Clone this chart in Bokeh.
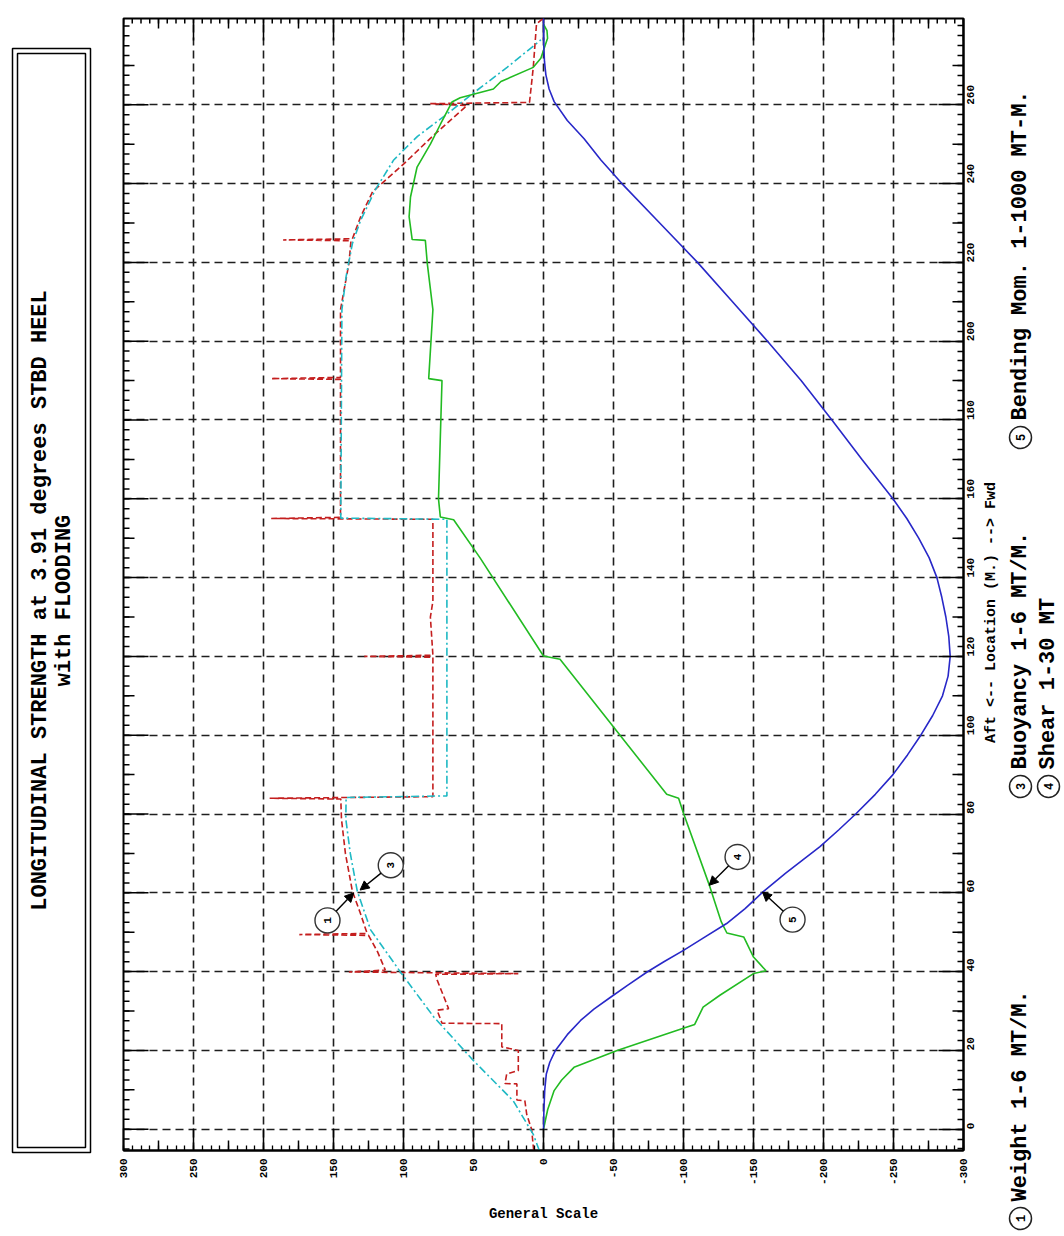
import math
from bokeh.plotting import figure
from bokeh.models import Range1d, FixedTicker, Label, Arrow, NormalHead, ColumnDataSource
from bokeh.layouts import row
from bokeh.core.properties import value
from bokeh.embed import file_html
from bokeh.resources import INLINE

FONT = "Liberation Mono"

# ---------------- data (General Scale value vs Location in metres) ----------------
loc_weight = [-5.4, 0, 3.8, 7.2, 7.4, 11.5, 11.6, 14, 14.9, 20, 20.9, 26.8, 26.9, 30.2, 30.6, 37.9, 39.3,
              39.5, 39.9, 40.4, 45, 49.2, 49.4, 49.7, 55, 60.4, 70, 78.7, 83.8, 84.0, 84.4, 119.8, 120.0,
              120.3, 130, 134, 154.8, 155.0, 155.3, 190.3, 190.5, 190.8, 208, 219.7, 225.5, 225.7, 226.0,
              231.6, 238, 245, 252.3, 259.8, 260.3, 260.6, 269.5, 280.5, 282]
weight = [7, 8.5, 12, 13.3, 19, 19, 27.5, 26.3, 18, 18, 29.8, 29.8, 72.5, 76, 67.8, 76, 77,
          18, 139, 113, 118.5, 125, 174.4, 126, 131, 136.5, 141.5, 144.3, 144.8, 195.6, 79, 79, 128,
          79, 80.8, 79, 79, 194.5, 145, 145, 194.5, 145, 145, 139, 137.5, 186, 136.5,
          130.6, 122, 99.8, 78.4, 54.7, 81, 10, 7.3, 5, 0]

loc_buoy = [-5.4, -1.3, 7.2, 17.4, 28.5, 39.8, 50.6, 60.4, 70, 78.7, 84.2, 84.6, 154.8, 155.1, 208,
            216.4, 224.8, 230.7, 238.5, 246, 252, 257, 263, 269.5, 275.9, 276.5]
buoyancy = [3, 7.3, 21.6, 50, 78.4, 102, 123.5, 133, 138, 141.2, 141, 69, 69, 144.8, 144,
            141, 136.5, 130.6, 120, 107, 90, 71.3, 50, 26, 3.8, 1.9]

loc_shear = [0, 5, 9.8, 12.5, 15.7, 20, 25.9, 26.6, 31, 34, 39.5, 40.2, 43.7, 48.8, 49.8, 52.6, 62.4,
             80.2, 84, 85, 119.3, 120.1, 145, 154.7, 155.4, 160, 190, 190.5, 208, 219.7, 225.6, 225.8,
             231.6, 236.6, 244.2, 250, 255, 260.7, 261.8, 264, 265.9, 269.5, 271.8, 276.9, 278.8, 280.5]
shear = [0, -3, -7.6, -13, -21.8, -52.6, -102, -108, -114, -126, -150, -159, -150, -143, -131, -127, -118,
         -100, -96.5, -88, -11.8, 0, 45.3, 64.2, 73.7, 75, 72.5, 82, 79, 83, 84.4, 93.8,
         96, 95, 90.3, 80.8, 73.7, 65.4, 59.5, 35.8, 30.4, 7.3, 1.9, -2.9, -2.5, 0]

loc_moment = [0, 5, 10, 14, 17, 20, 24, 27.6, 30.5, 33.5, 36.5, 39.9, 42.5, 45.4, 48.5, 52.2, 56, 60.3,
              65, 71.7, 76, 80, 85, 90, 95, 100, 105, 110, 115, 120, 125, 130, 135, 140, 145, 150, 155,
              160, 170, 180, 190, 200, 210, 220, 230, 240, 246, 251.4, 256, 260.8, 264, 267.6, 271, 275, 282]
moment = [0, -0.3, -0.9, -2, -4.5, -8.5, -17, -26.5, -36, -47.9, -60, -74, -86, -100, -114, -130.8, -144,
          -157, -173, -197.5, -211, -223, -237, -249.6, -260, -269.5, -278, -285, -289, -290.5, -289.5,
          -287.4, -284.5, -281, -275.5, -268, -259.5, -249.6, -227.5, -206, -184, -160, -135, -110, -83,
          -56, -41, -29, -17, -7.6, -4, -1.7, -0.7, -0.2, 0]

x_ticks = [300, 250, 200, 150, 100, 50, 0, -50, -100, -150, -200, -250, -300]
x_tick_labels = ["300", "250", "200", "150", "100", "50", "0", "-50", "-100", "-150", "-200", "-250", "-300"]
y_ticks = [0, 20, 40, 60, 80, 100, 120, 140, 160, 180, 200, 220, 240, 260]
y_tick_labels = ["0", "20", "40", "60", "80", "100", "120", "140", "160", "180", "200", "220", "240", "260"]

title_lines = ["LONGITUDINAL STRENGTH at 3.91 degrees STBD HEEL", "with FLOODING"]
x_axis_title = "General Scale"
y_axis_title = "Aft <-- Location (M.) --> Fwd"

legend_nums = ["1", "3", "4", "5"]
legend_texts = ["Weight 1-6 MT/M.", "Buoyancy 1-6 MT/M.", "Shear 1-30 MT", "Bending Mom. 1-1000 MT-M."]

callout_nums = ["1", "3", "4", "5"]
callout_cx = [154.3, 109.1, -138.6, -177.9]
callout_cy = [53.0, 67.0, 69.1, 53.2]
callout_tx = [135.5, 131.0, -118.3, -156.4]
callout_ty = [60.0, 60.7, 61.9, 60.2]

RED, CYAN, GREEN, BLUE = "#c41e1e", "#1fb9c4", "#22bb22", "#2828c8"

# ---------------- layout constants ----------------
H = 1236
X0, X1 = 300, -300
Y0, Y1 = -5.4, 281.9
FW, FH = 840, 1132
PXG = FW / abs(X1 - X0)
PXL = FH / (Y1 - Y0)
MAIN_W = 875
SIDE_X = 108 + MAIN_W


def no_align(fig):
    try:
        fig.frame_align = False
    except Exception:
        pass


# ---------------- main chart ----------------
p = figure(width=MAIN_W, height=H, x_range=Range1d(X0, X1), y_range=Range1d(Y0, Y1),
           output_backend="svg", toolbar_location=None,
           x_axis_location="below", y_axis_location="right",
           min_border_left=15, min_border_right=MAIN_W - 15 - FW, min_border_top=18, min_border_bottom=86)
no_align(p)
p.outline_line_color = "black"
p.outline_line_width = 2
p.background_fill_color = "white"
p.border_fill_color = "white"

x_minor = [X1 + 6.25 * i for i in range(97)]
y_minor = [-5 + 2.5 * i for i in range(115)]
xt = FixedTicker(ticks=x_ticks, minor_ticks=x_minor)
yt = FixedTicker(ticks=y_ticks, minor_ticks=y_minor)


def style_axis(ax, major_len, minor_len):
    ax.axis_line_color = "black"
    ax.axis_line_width = 2
    ax.major_tick_in = major_len
    ax.major_tick_out = 0
    ax.minor_tick_in = minor_len
    ax.minor_tick_out = 0
    ax.major_tick_line_color = "black"
    ax.minor_tick_line_color = "black"
    ax.major_tick_line_width = 1.5
    ax.minor_tick_line_width = 1.3
    ax.major_label_text_font = FONT
    ax.major_label_text_font_style = "bold"
    ax.major_label_text_color = "black"
    ax.major_label_text_font_size = "11px"
    ax.axis_label_text_font = FONT
    ax.axis_label_text_font_style = "bold"
    ax.axis_label_text_color = "black"


bx = p.xaxis[0]
bx.ticker = xt
style_axis(bx, 22, 5)
bx.major_label_overrides = {t: s for t, s in zip(x_ticks, x_tick_labels)}
bx.major_label_orientation = math.pi / 2
bx.major_label_standoff = 8
bx.axis_label = x_axis_title
bx.axis_label_text_font_size = "14px"
bx.axis_label_standoff = 18

ry = p.yaxis[0]
ry.ticker = yt
style_axis(ry, 25, 6)
ry.major_label_overrides = {t: s for t, s in zip(y_ticks, y_tick_labels)}
ry.major_label_orientation = math.pi / 2
ry.major_label_standoff = 7

for g in p.xgrid:
    g.ticker = xt
for g in p.ygrid:
    g.ticker = yt
p.grid.grid_line_color = "#1e1e1e"
p.grid.grid_line_dash = "8 5"
p.grid.grid_line_width = 1.6

# frame ticks on the top and left edges, and medium ticks on all edges
mid_x = [(a + b) / 2 for a, b in zip(x_ticks[:-1], x_ticks[1:])]
mid_y = [v + 10 for v in y_ticks if v + 10 < Y1]


def edge_ticks_h(vals, length_px, at_y, direction):
    d = direction * length_px / PXL
    p.segment(x0=vals, y0=[at_y] * len(vals), x1=vals, y1=[at_y + d] * len(vals),
              line_color="black", line_width=1.5)


def edge_ticks_v(vals, length_px, at_x, direction):
    d = direction * length_px / PXG
    p.segment(x0=[at_x] * len(vals), y0=vals, x1=[at_x + d] * len(vals), y1=vals,
              line_color="black", line_width=1.5)


edge_ticks_h(mid_x, 10, Y0, 1)
edge_ticks_h(mid_x, 10, Y1, -1)
edge_ticks_h(x_ticks, 22, Y1, -1)
edge_ticks_h(x_minor, 5, Y1, -1)
edge_ticks_v(mid_y, 11, X0, -1)
edge_ticks_v(mid_y, 11, X1, 1)
edge_ticks_v(y_ticks, 25, X0, -1)
edge_ticks_v(y_minor, 6, X0, -1)

# curves
p.line(weight, loc_weight, line_color=RED, line_dash="6 3", line_width=1.6)
p.line(buoyancy, loc_buoy, line_color=CYAN, line_dash="8 3 2 3", line_width=1.6)
p.line(shear, loc_shear, line_color=GREEN, line_width=1.6)
p.line(moment, loc_moment, line_color=BLUE, line_width=1.6)

# callouts
R = 12.5
xs, ys = [], []
for cx, cy, txx, tyy in zip(callout_cx, callout_cy, callout_tx, callout_ty):
    dx = (txx - cx) * (-PXG)
    dy = (tyy - cy) * PXL
    d = math.hypot(dx, dy)
    ux, uy = dx / d, dy / d
    xs.append(cx + ux * R / (-PXG))
    ys.append(cy + uy * R / PXL)
asrc = ColumnDataSource(dict(x0=xs, y0=ys, x1=callout_tx, y1=callout_ty))
p.add_layout(Arrow(source=asrc, x_start="x0", y_start="y0", x_end="x1", y_end="y1",
                   line_color="black", line_width=1.4,
                   end=NormalHead(size=9, fill_color="black", line_color="black")))
p.scatter(callout_cx, callout_cy, marker="circle", size=2 * R, fill_color="white",
          line_color="#333333", line_width=1.4)
p.text(callout_cx, callout_cy, text=callout_nums, angle=math.pi / 2, text_align="center",
       text_baseline="middle", text_font=value(FONT), text_font_size="11px",
       text_font_style="bold", text_color="black")

# ---------------- title panel (coordinates = page pixels) ----------------
t = figure(width=108, height=H, x_range=Range1d(0, 108), y_range=Range1d(H, 0),
           output_backend="svg", toolbar_location=None, x_axis_location=None,
           y_axis_location=None, min_border=0)
no_align(t)
t.grid.visible = False
t.outline_line_color = None
t.quad(left=[12, 17], right=[90, 85], top=[48, 53], bottom=[1152, 1147],
       fill_color=None, line_color="black", line_width=1.5)
for lx, txt in zip([40, 64], title_lines):
    t.add_layout(Label(x=lx, y=600, text=txt, angle=90, angle_units="deg",
                       text_align="center", text_baseline="middle", text_font=FONT,
                       text_font_size="22px", text_font_style="bold", text_color="black"))

# ---------------- right panel: axis title + legend (coordinates = page pixels) ----------------
lg = figure(width=1064 - SIDE_X, height=H, x_range=Range1d(SIDE_X, 1064), y_range=Range1d(H, 0),
            output_backend="svg", toolbar_location=None, x_axis_location=None,
            y_axis_location=None, min_border=0)
no_align(lg)
lg.grid.visible = False
lg.outline_line_color = None
lg.add_layout(Label(x=991, y=612, text=y_axis_title, angle=90, angle_units="deg",
                    text_align="center", text_baseline="middle", text_font=FONT,
                    text_font_size="15px", text_font_style="bold", text_color="black"))
leg_x = [1020, 1020, 1048, 1020]
leg_y = [1218, 786, 786, 437]
lg.scatter(leg_x, leg_y, marker="circle", size=22, fill_color="white", line_color="#222222", line_width=1.5)
lg.text(leg_x, leg_y, text=legend_nums, angle=math.pi / 2, text_align="center",
        text_baseline="middle", text_font=value(FONT), text_font_size="12px",
        text_font_style="bold", text_color="black")
for lx, ly_, txt in zip(leg_x, leg_y, legend_texts):
    lg.add_layout(Label(x=lx, y=ly_ - 17, text=txt, angle=90, angle_units="deg",
                        text_align="left", text_baseline="middle", text_font=FONT,
                        text_font_size="22px", text_font_style="bold", text_color="black"))

layout = row(t, p, lg)
open("out.html", "w").write(file_html(layout, INLINE))
